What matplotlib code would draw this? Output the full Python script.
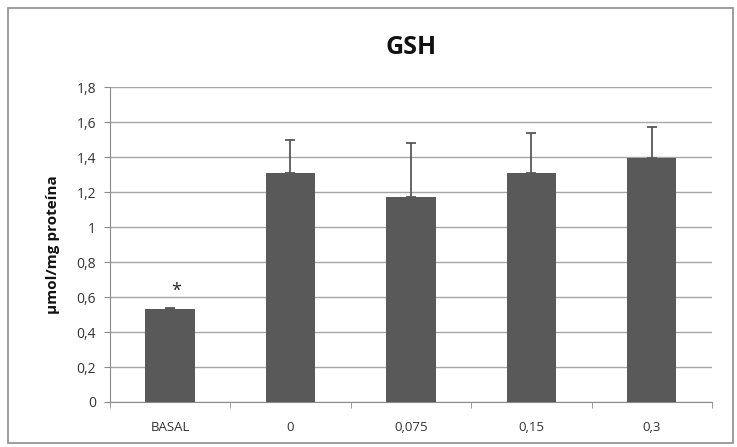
import matplotlib
matplotlib.use('Agg')
import matplotlib.pyplot as plt
from matplotlib.patches import Rectangle
from matplotlib.ticker import FuncFormatter

categories = ['BASAL', '0', '0,075', '0,15', '0,3']
values = [0.53, 1.31, 1.17, 1.31, 1.395]
errors = [0.005, 0.19, 0.31, 0.23, 0.175]
yticks = [0, 0.2, 0.4, 0.6, 0.8, 1.0, 1.2, 1.4, 1.6, 1.8]

plt.rcParams['font.family'] = ['Open Sans', 'DejaVu Sans']

fig = plt.figure(figsize=(7.37, 4.47), dpi=100)
ax = fig.add_axes([0.149, 0.1007, 0.817, 0.7043])

# outer chart frame
fig.patches.append(Rectangle((0.011, 0.009), 0.983, 0.973, transform=fig.transFigure,
                             fill=False, edgecolor='#8c8c8c', linewidth=1.2))

x = range(len(categories))
ax.bar(x, values, width=0.41, color='#595959', zorder=3)
ax.errorbar(x, values, yerr=[[0] * len(errors), errors], fmt='none',
            ecolor='#595959', elinewidth=1.3, capsize=3.5, capthick=1.3, zorder=4)

ax.text(0.05, 0.635, '*', ha='center', va='center', fontsize=13, color='#222222')

ax.set_xlim(-0.5, len(categories) - 0.5)
ax.set_ylim(0, 1.8)
ax.set_yticks(yticks)
ax.yaxis.set_major_formatter(FuncFormatter(lambda v, p: ('%g' % round(v, 1)).replace('.', ',')))
ax.set_xticks([i - 0.5 for i in range(len(categories) + 1)], minor=True)
ax.set_xticks(list(x))
ax.set_xticklabels(categories)
ax.tick_params(axis='x', which='major', length=0, pad=14, labelsize=9.5, labelcolor='#333333')
ax.tick_params(axis='x', which='minor', length=4, color='#8c8c8c')
ax.tick_params(axis='y', length=4, color='#8c8c8c', labelsize=10, labelcolor='#333333', pad=6)

ax.grid(axis='y', color='#a6a6a6', linewidth=1, zorder=0)
for side in ['top', 'right']:
    ax.spines[side].set_visible(False)
ax.spines['left'].set_color('#8c8c8c')
ax.spines['bottom'].set_color('#8c8c8c')

ax.set_title('GSH', fontsize=18, fontweight='bold', pad=24, color='#111111')
ax.set_ylabel('µmol/mg proteína', fontsize=11, fontweight='bold', labelpad=12, color='#111111')

fig.savefig('out.png', dpi=100)
